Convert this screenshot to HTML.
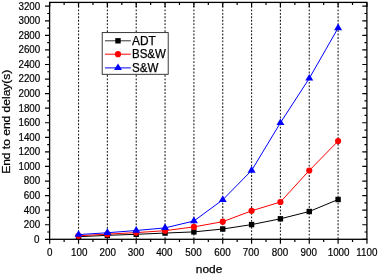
<!DOCTYPE html><html><head><meta charset="utf-8"><style>html,body{margin:0;padding:0;background:#fff;width:379px;height:277px;overflow:hidden}svg{display:block;will-change:transform}text{font-family:"Liberation Sans",sans-serif;fill:#000;stroke:#000;stroke-width:0.25px}text.t{stroke-width:0.18px}</style></head><body>
<svg width="379" height="277" viewBox="0 0 379 277">
<rect width="379" height="277" fill="#fff"/>
<line x1="78.54" y1="2.53" x2="78.54" y2="239.30" stroke="#222" stroke-width="1.1" stroke-dasharray="1.85 1.6"/>
<line x1="107.38" y1="2.53" x2="107.38" y2="239.30" stroke="#222" stroke-width="1.1" stroke-dasharray="1.85 1.6"/>
<line x1="136.22" y1="2.53" x2="136.22" y2="239.30" stroke="#222" stroke-width="1.1" stroke-dasharray="1.85 1.6"/>
<line x1="165.06" y1="2.53" x2="165.06" y2="239.30" stroke="#222" stroke-width="1.1" stroke-dasharray="1.85 1.6"/>
<line x1="193.90" y1="2.53" x2="193.90" y2="239.30" stroke="#222" stroke-width="1.1" stroke-dasharray="1.85 1.6"/>
<line x1="222.74" y1="2.53" x2="222.74" y2="239.30" stroke="#222" stroke-width="1.1" stroke-dasharray="1.85 1.6"/>
<line x1="251.58" y1="2.53" x2="251.58" y2="239.30" stroke="#222" stroke-width="1.1" stroke-dasharray="1.85 1.6"/>
<line x1="280.42" y1="2.53" x2="280.42" y2="239.30" stroke="#222" stroke-width="1.1" stroke-dasharray="1.85 1.6"/>
<line x1="309.26" y1="2.53" x2="309.26" y2="239.30" stroke="#222" stroke-width="1.1" stroke-dasharray="1.85 1.6"/>
<line x1="338.10" y1="2.53" x2="338.10" y2="239.30" stroke="#222" stroke-width="1.1" stroke-dasharray="1.85 1.6"/>
<path d="M49.70 239.30V243.80M49.70 2.40V6.90M64.12 239.30V241.90M64.12 2.40V5.00M78.54 239.30V243.80M78.54 2.40V6.90M92.96 239.30V241.90M92.96 2.40V5.00M107.38 239.30V243.80M107.38 2.40V6.90M121.80 239.30V241.90M121.80 2.40V5.00M136.22 239.30V243.80M136.22 2.40V6.90M150.64 239.30V241.90M150.64 2.40V5.00M165.06 239.30V243.80M165.06 2.40V6.90M179.48 239.30V241.90M179.48 2.40V5.00M193.90 239.30V243.80M193.90 2.40V6.90M208.32 239.30V241.90M208.32 2.40V5.00M222.74 239.30V243.80M222.74 2.40V6.90M237.16 239.30V241.90M237.16 2.40V5.00M251.58 239.30V243.80M251.58 2.40V6.90M266.00 239.30V241.90M266.00 2.40V5.00M280.42 239.30V243.80M280.42 2.40V6.90M294.84 239.30V241.90M294.84 2.40V5.00M309.26 239.30V243.80M309.26 2.40V6.90M323.68 239.30V241.90M323.68 2.40V5.00M338.10 239.30V243.80M338.10 2.40V6.90M352.52 239.30V241.90M352.52 2.40V5.00M366.94 239.30V243.80M366.94 2.40V6.90M49.60 239.30H45.00M366.90 239.30H362.30M49.60 232.02H47.20M366.90 232.02H364.50M49.60 224.73H45.00M366.90 224.73H362.30M49.60 217.45H47.20M366.90 217.45H364.50M49.60 210.16H45.00M366.90 210.16H362.30M49.60 202.88H47.20M366.90 202.88H364.50M49.60 195.60H45.00M366.90 195.60H362.30M49.60 188.31H47.20M366.90 188.31H364.50M49.60 181.03H45.00M366.90 181.03H362.30M49.60 173.74H47.20M366.90 173.74H364.50M49.60 166.46H45.00M366.90 166.46H362.30M49.60 159.18H47.20M366.90 159.18H364.50M49.60 151.89H45.00M366.90 151.89H362.30M49.60 144.61H47.20M366.90 144.61H364.50M49.60 137.32H45.00M366.90 137.32H362.30M49.60 130.04H47.20M366.90 130.04H364.50M49.60 122.76H45.00M366.90 122.76H362.30M49.60 115.47H47.20M366.90 115.47H364.50M49.60 108.19H45.00M366.90 108.19H362.30M49.60 100.90H47.20M366.90 100.90H364.50M49.60 93.62H45.00M366.90 93.62H362.30M49.60 86.34H47.20M366.90 86.34H364.50M49.60 79.05H45.00M366.90 79.05H362.30M49.60 71.77H47.20M366.90 71.77H364.50M49.60 64.48H45.00M366.90 64.48H362.30M49.60 57.20H47.20M366.90 57.20H364.50M49.60 49.92H45.00M366.90 49.92H362.30M49.60 42.63H47.20M366.90 42.63H364.50M49.60 35.35H45.00M366.90 35.35H362.30M49.60 28.06H47.20M366.90 28.06H364.50M49.60 20.78H45.00M366.90 20.78H362.30M49.60 13.50H47.20M366.90 13.50H364.50M49.60 6.21H45.00M366.90 6.21H362.30" stroke="#000" stroke-width="1.2" fill="none"/>
<rect x="49.60" y="2.40" width="317.30" height="236.90" fill="none" stroke="#000" stroke-width="1.3"/>
<polyline points="78.54,236.70 107.38,235.35 136.22,234.30 165.06,233.05 193.90,231.90 222.74,229.00 251.58,224.60 280.42,218.80 309.26,211.50 338.10,199.50" fill="none" stroke="#000" stroke-width="1.0"/>
<rect x="75.84" y="234.00" width="5.4" height="5.4" fill="#000"/><rect x="104.68" y="232.65" width="5.4" height="5.4" fill="#000"/><rect x="133.52" y="231.60" width="5.4" height="5.4" fill="#000"/><rect x="162.36" y="230.35" width="5.4" height="5.4" fill="#000"/><rect x="191.20" y="229.20" width="5.4" height="5.4" fill="#000"/><rect x="220.04" y="226.30" width="5.4" height="5.4" fill="#000"/><rect x="248.88" y="221.90" width="5.4" height="5.4" fill="#000"/><rect x="277.72" y="216.10" width="5.4" height="5.4" fill="#000"/><rect x="306.56" y="208.80" width="5.4" height="5.4" fill="#000"/><rect x="335.40" y="196.80" width="5.4" height="5.4" fill="#000"/>
<polyline points="78.54,235.80 107.38,234.15 136.22,232.60 165.06,230.70 193.90,226.90 222.74,221.70 251.58,210.80 280.42,202.00 309.26,170.50 338.10,141.10" fill="none" stroke="#f00" stroke-width="1.0"/>
<circle cx="78.54" cy="235.80" r="3.1" fill="#f00"/><circle cx="107.38" cy="234.15" r="3.1" fill="#f00"/><circle cx="136.22" cy="232.60" r="3.1" fill="#f00"/><circle cx="165.06" cy="230.70" r="3.1" fill="#f00"/><circle cx="193.90" cy="226.90" r="3.1" fill="#f00"/><circle cx="222.74" cy="221.70" r="3.1" fill="#f00"/><circle cx="251.58" cy="210.80" r="3.1" fill="#f00"/><circle cx="280.42" cy="202.00" r="3.1" fill="#f00"/><circle cx="309.26" cy="170.50" r="3.1" fill="#f00"/><circle cx="338.10" cy="141.10" r="3.1" fill="#f00"/>
<polyline points="78.54,234.60 107.38,232.75 136.22,230.50 165.06,227.90 193.90,221.00 222.74,199.80 251.58,170.50 280.42,122.80 309.26,78.40 338.10,28.00" fill="none" stroke="#00f" stroke-width="1.0"/>
<path d="M78.54 230.20L82.54 236.80L74.54 236.80Z" fill="#00f"/><path d="M107.38 228.35L111.38 234.95L103.38 234.95Z" fill="#00f"/><path d="M136.22 226.10L140.22 232.70L132.22 232.70Z" fill="#00f"/><path d="M165.06 223.50L169.06 230.10L161.06 230.10Z" fill="#00f"/><path d="M193.90 216.60L197.90 223.20L189.90 223.20Z" fill="#00f"/><path d="M222.74 195.40L226.74 202.00L218.74 202.00Z" fill="#00f"/><path d="M251.58 166.10L255.58 172.70L247.58 172.70Z" fill="#00f"/><path d="M280.42 118.40L284.42 125.00L276.42 125.00Z" fill="#00f"/><path d="M309.26 74.00L313.26 80.60L305.26 80.60Z" fill="#00f"/><path d="M338.10 23.60L342.10 30.20L334.10 30.20Z" fill="#00f"/>
<g opacity="0.999">
<text transform="translate(39.50 242.70) scale(1 1.035)" font-size="9.85" text-anchor="end" class="t">0</text>
<text transform="translate(40.30 228.13) scale(1 1.035)" font-size="9.85" text-anchor="end" class="t">200</text>
<text transform="translate(40.30 213.56) scale(1 1.035)" font-size="9.85" text-anchor="end" class="t">400</text>
<text transform="translate(40.30 199.00) scale(1 1.035)" font-size="9.85" text-anchor="end" class="t">600</text>
<text transform="translate(40.30 184.43) scale(1 1.035)" font-size="9.85" text-anchor="end" class="t">800</text>
<text transform="translate(40.30 169.86) scale(1 1.035)" font-size="9.85" text-anchor="end" class="t">1000</text>
<text transform="translate(40.30 155.29) scale(1 1.035)" font-size="9.85" text-anchor="end" class="t">1200</text>
<text transform="translate(40.30 140.72) scale(1 1.035)" font-size="9.85" text-anchor="end" class="t">1400</text>
<text transform="translate(40.30 126.16) scale(1 1.035)" font-size="9.85" text-anchor="end" class="t">1600</text>
<text transform="translate(40.30 111.59) scale(1 1.035)" font-size="9.85" text-anchor="end" class="t">1800</text>
<text transform="translate(40.30 97.02) scale(1 1.035)" font-size="9.85" text-anchor="end" class="t">2000</text>
<text transform="translate(40.30 82.45) scale(1 1.035)" font-size="9.85" text-anchor="end" class="t">2200</text>
<text transform="translate(40.30 67.88) scale(1 1.035)" font-size="9.85" text-anchor="end" class="t">2400</text>
<text transform="translate(40.30 53.32) scale(1 1.035)" font-size="9.85" text-anchor="end" class="t">2600</text>
<text transform="translate(40.30 38.75) scale(1 1.035)" font-size="9.85" text-anchor="end" class="t">2800</text>
<text transform="translate(40.30 24.18) scale(1 1.035)" font-size="9.85" text-anchor="end" class="t">3000</text>
<text transform="translate(40.30 9.61) scale(1 1.035)" font-size="9.85" text-anchor="end" class="t">3200</text>
<text transform="translate(49.70 255.7) scale(1 1.035)" font-size="9.85" text-anchor="middle" class="t">0</text>
<text transform="translate(79.24 255.7) scale(1 1.035)" font-size="9.85" text-anchor="middle" class="t">100</text>
<text transform="translate(107.78 255.7) scale(1 1.035)" font-size="9.85" text-anchor="middle" class="t">200</text>
<text transform="translate(136.07 255.7) scale(1 1.035)" font-size="9.85" text-anchor="middle" class="t">300</text>
<text transform="translate(164.36 255.7) scale(1 1.035)" font-size="9.85" text-anchor="middle" class="t">400</text>
<text transform="translate(193.40 255.7) scale(1 1.035)" font-size="9.85" text-anchor="middle" class="t">500</text>
<text transform="translate(222.44 255.7) scale(1 1.035)" font-size="9.85" text-anchor="middle" class="t">600</text>
<text transform="translate(251.08 255.7) scale(1 1.035)" font-size="9.85" text-anchor="middle" class="t">700</text>
<text transform="translate(279.92 255.7) scale(1 1.035)" font-size="9.85" text-anchor="middle" class="t">800</text>
<text transform="translate(308.76 255.7) scale(1 1.035)" font-size="9.85" text-anchor="middle" class="t">900</text>
<text transform="translate(338.60 255.7) scale(1 1.035)" font-size="9.85" text-anchor="middle" class="t">1000</text>
<text transform="translate(366.94 255.7) scale(1 1.035)" font-size="9.85" text-anchor="middle" class="t">1100</text>
<text x="209.05" y="273.2" font-size="11.6" text-anchor="middle" textLength="26.5" lengthAdjust="spacingAndGlyphs">node</text>
<text transform="translate(9.9 121.75) rotate(-90)" font-size="11.2" text-anchor="middle" textLength="104.2" lengthAdjust="spacingAndGlyphs">End to end delay(s)</text>
</g>
<rect x="102.2" y="32.6" width="66.00" height="41.70" fill="#fff" stroke="#222" stroke-width="0.9"/>
<line x1="105" y1="40.8" x2="130.8" y2="40.8" stroke="#000" stroke-width="0.8"/>
<rect x="115.30" y="38.10" width="5.4" height="5.4" fill="#000"/>
<text x="132" y="44.60" font-size="11.9" textLength="23.8" lengthAdjust="spacingAndGlyphs">ADT</text>
<line x1="105" y1="54.2" x2="130.8" y2="54.2" stroke="#f00" stroke-width="1.0"/>
<circle cx="118.00" cy="54.20" r="3.1" fill="#f00"/>
<text x="132" y="58.00" font-size="11.9" textLength="33.9" lengthAdjust="spacingAndGlyphs">BS&amp;W</text>
<line x1="105" y1="67.9" x2="130.8" y2="67.9" stroke="#00f" stroke-width="1.0"/>
<path d="M118.00 63.50L122.00 70.10L114.00 70.10Z" fill="#00f"/>
<text x="132" y="71.70" font-size="11.9" textLength="26.3" lengthAdjust="spacingAndGlyphs">S&amp;W</text>
</svg></body></html>
